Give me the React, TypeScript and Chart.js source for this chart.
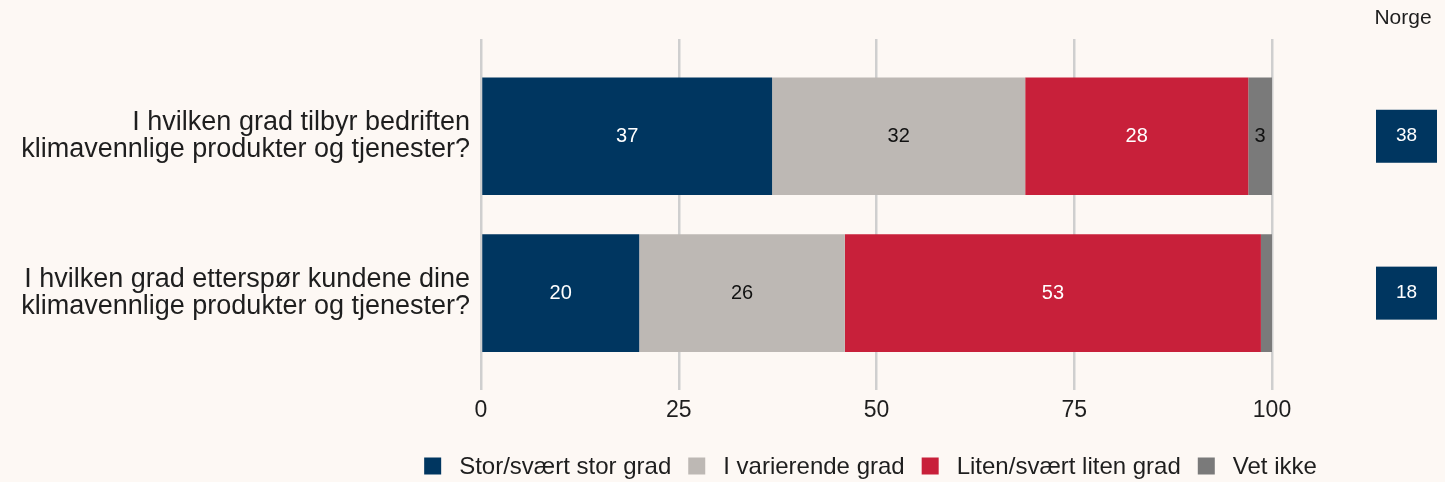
import React, { useEffect, useRef } from "react";
import { Chart, registerables } from "chart.js";

Chart.register(...registerables);

const categories: string[][] = [
  ["I hvilken grad tilbyr bedriften", "klimavennlige produkter og tjenester?"],
  ["I hvilken grad etterspør kundene dine", "klimavennlige produkter og tjenester?"],
];
const seriesNames = ["Stor/svært stor grad", "I varierende grad", "Liten/svært liten grad", "Vet ikke"];
const storValues = [36.8, 20.0];
const varierendeValues = [32.0, 26.0];
const litenValues = [28.2, 52.6];
const vetIkkeValues = [3.0, 1.4];
const norgeValues = [38, 18];
const norgeTitle = "Norge";
const xTicks = [0, 25, 50, 75, 100];

const colors = ["#003660", "#BDB8B4", "#C8203A", "#7A7A7A"];
const labelColors = ["#FFFFFF", "#111111", "#FFFFFF", "#111111"];
const BG = "#FDF8F4";
const TEXT = "#1E1E1E";
const FONT = "'Liberation Sans', Arial, sans-serif";

export default function App() {
  const ref = useRef<HTMLCanvasElement | null>(null);

  useEffect(() => {
    document.body.style.backgroundColor = BG;
    document.body.style.overflow = "hidden";
    document.documentElement.style.overflow = "hidden";
    const canvas = ref.current;
    if (!canvas) return;
    const allValues = [storValues, varierendeValues, litenValues, vetIkkeValues];

    const dataLabels = {
      id: "dataLabels",
      afterDatasetsDraw(chart: any) {
        const ctx = chart.ctx;
        ctx.save();
        ctx.font = `20px ${FONT}`;
        ctx.textAlign = "center";
        ctx.textBaseline = "middle";
        chart.data.datasets.forEach((ds: any, i: number) => {
          const meta = chart.getDatasetMeta(i);
          meta.data.forEach((el: any, j: number) => {
            const v = ds.data[j].x;
            if (v < 2) return;
            const p = el.getCenterPoint();
            ctx.fillStyle = labelColors[i];
            ctx.fillText(String(Math.round(v)), p.x, p.y);
          });
        });
        ctx.restore();
      },
    };

    const norgePlugin = {
      id: "norge",
      afterDraw(chart: any) {
        const ctx = chart.ctx;
        const y = chart.scales.y;
        ctx.save();
        ctx.textAlign = "center";
        ctx.textBaseline = "middle";
        ctx.font = `21px ${FONT}`;
        ctx.fillStyle = TEXT;
        ctx.fillText(norgeTitle, chart.width - 34, 10);
        const cx = chart.width - 30.5;
        const w = 61;
        const h = 53;
        norgeValues.forEach((v, i) => {
          const cy = y.getPixelForValue(i + 1);
          ctx.fillStyle = colors[0];
          ctx.fillRect(cx - w / 2, cy - h / 2, w, h);
          ctx.fillStyle = "#FFFFFF";
          ctx.font = `19px ${FONT}`;
          ctx.fillText(String(v), cx, cy);
        });
        ctx.restore();
      },
    };

    const legendPlugin = {
      id: "customLegend",
      afterDraw(chart: any) {
        const ctx = chart.ctx;
        const area = chart.chartArea;
        ctx.save();
        ctx.font = `24px ${FONT}`;
        ctx.textBaseline = "middle";
        ctx.textAlign = "left";
        const box = 17;
        const gap = 18;
        const sep = 17;
        const widths = seriesNames.map((n) => ctx.measureText(n).width);
        const total = widths.reduce((a, b) => a + b, 0) + seriesNames.length * (box + gap) + (seriesNames.length - 1) * sep;
        let x = (area.left + area.right) / 2 - total / 2 - 6;
        const cy = chart.height - 16;
        seriesNames.forEach((n, i) => {
          ctx.fillStyle = colors[i];
          ctx.fillRect(x, cy - box / 2, box, box);
          x += box + gap;
          ctx.fillStyle = TEXT;
          ctx.fillText(n, x, cy + 1);
          x += widths[i] + sep;
        });
        ctx.restore();
      },
    };

    const chart = new Chart(canvas, {
      type: "bar",
      data: {
        datasets: seriesNames.map((name, i) => ({
          label: name,
          data: allValues[i].map((v, j) => ({ x: v, y: j + 1 })),
          backgroundColor: colors[i],
          borderWidth: 0,
          barPercentage: 0.75,
          categoryPercentage: 1,
        })),
      },
      options: {
        indexAxis: "y",
        animation: false,
        responsive: true,
        maintainAspectRatio: false,
        layout: { padding: { top: 31, right: 165, bottom: 52, left: 0 } },
        plugins: {
          legend: { display: false },
          tooltip: { enabled: false },
        },
        scales: {
          x: {
            type: "linear",
            stacked: true,
            min: 0,
            max: 100,
            afterBuildTicks: (s: any) => {
              s.ticks = xTicks.map((v) => ({ value: v }));
            },
            grid: { color: "#CFCFCF", lineWidth: 2.5, drawTicks: false },
            border: { display: false },
            ticks: { padding: 6, color: TEXT, font: { family: FONT, size: 23 } },
          },
          y: {
            type: "linear",
            stacked: true,
            reverse: true,
            offset: false,
            grace: 0,
            min: 0.38,
            max: 2.62,
            afterBuildTicks: (s: any) => {
              s.ticks = categories.map((_, i) => ({ value: i + 1 }));
            },
            afterFit: (s: any) => {
              s.width = 473;
            },
            grid: { display: false },
            border: { display: false },
            ticks: {
              padding: 3,
              color: TEXT,
              font: { family: FONT, size: 27, lineHeight: 1.0 },
              callback: (v: any) => categories[Number(v) - 1] ?? "",
            },
          },
        },
      },
      plugins: [dataLabels, norgePlugin, legendPlugin],
    } as any);
    return () => chart.destroy();
  }, []);

  return (
    <div style={{ position: "relative", width: "100%", height: "474px" }}>
      <canvas ref={ref} />
    </div>
  );
}
